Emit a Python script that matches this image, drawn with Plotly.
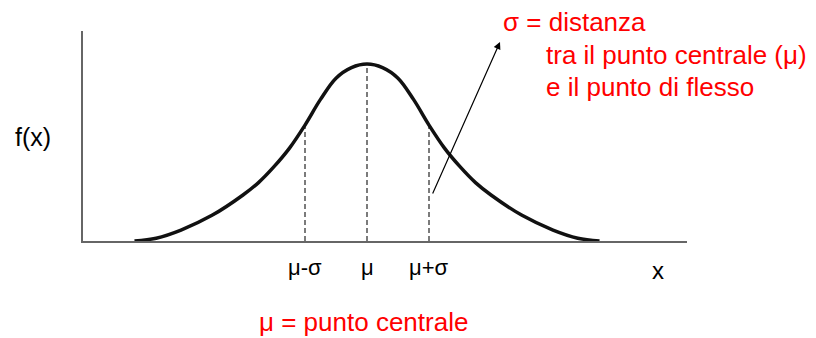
import plotly.graph_objects as go

# Curve (x in sigma units, mu = 0; f scaled so peak = 1)
curve_x = [-3.75, -3.4, -3.0, -2.5, -2.0, -1.75, -1.5, -1.25, -1.0, -0.75, -0.5, -0.25, 0.0,
           0.25, 0.5, 0.75, 1.0, 1.25, 1.5, 1.75, 2.0, 2.5, 3.0, 3.4, 3.75]
curve_y = [0.0, 0.016, 0.062, 0.145, 0.26, 0.33, 0.42, 0.525, 0.655, 0.80, 0.92, 0.98, 1.0,
           0.98, 0.92, 0.80, 0.655, 0.525, 0.42, 0.33, 0.26, 0.145, 0.062, 0.016, 0.0]

# Reference verticals (mu - sigma, mu, mu + sigma)
ref_x = [-1.0, 0.0, 1.0]
ref_y = [0.655, 1.0, 0.655]
tick_labels = ["μ-σ", "μ", "μ+σ"]

W, H = 816, 338
L, R, T, B = 83, 687, 31, 241
XR = [(L - 367) / 62, (R - 367) / 62]
YR = [0, (B - T) / 177]

def px(xp):
    return (xp - L) / (R - L)

def py(yp):
    return (B - yp) / (B - T)

FONT = "Liberation Sans, Arial, sans-serif"
RED = "#ff0000"

fig = go.Figure()
for xv, yv in zip(ref_x, ref_y):
    fig.add_trace(go.Scatter(x=[xv, xv], y=[0, yv], mode="lines",
                             line=dict(color="#444444", width=1.4, dash="5px,3px"),
                             hoverinfo="skip", showlegend=False))
fig.add_trace(go.Scatter(x=curve_x, y=curve_y, mode="lines",
                         line=dict(color="#111111", width=3.5, shape="spline", smoothing=1.0),
                         showlegend=False))

annotations = [
    dict(x=px(33), y=py(137), xref="paper", yref="paper", text="f(x)", showarrow=False,
         font=dict(family=FONT, size=25, color="black"), xanchor="center", yanchor="middle"),
    dict(x=px(658), y=py(270), xref="paper", yref="paper", text="x", showarrow=False,
         font=dict(family=FONT, size=24, color="black"), xanchor="center", yanchor="middle"),
    dict(x=px(501), y=py(22), xref="paper", yref="paper", text="σ = distanza", showarrow=False,
         font=dict(family=FONT, size=26, color=RED), xanchor="left", yanchor="middle"),
    dict(x=px(544), y=py(55), xref="paper", yref="paper", text="tra il punto centrale (μ)",
         showarrow=False, font=dict(family=FONT, size=26, color=RED), xanchor="left", yanchor="middle"),
    dict(x=px(544), y=py(87), xref="paper", yref="paper", text="e il punto di flesso",
         showarrow=False, font=dict(family=FONT, size=26, color=RED), xanchor="left", yanchor="middle"),
    dict(x=px(257), y=py(322), xref="paper", yref="paper", text="μ = punto centrale",
         showarrow=False, font=dict(family=FONT, size=26, color=RED), xanchor="left", yanchor="middle"),
    dict(x=(500 - 367) / 62, y=(B - 42) / 177, xref="x", yref="y",
         ax=(432 - 367) / 62, ay=(B - 195) / 177, axref="x", ayref="y",
         text="", showarrow=True, arrowhead=2, arrowsize=1.2, arrowwidth=1.2, arrowcolor="black"),
]
for xv, lab in zip(ref_x, tick_labels):
    annotations.append(dict(x=xv, y=py(267), xref="x", yref="paper", text=lab, showarrow=False,
                            font=dict(family=FONT, size=22, color="black"),
                            xanchor="center", yanchor="middle"))

fig.update_layout(
    width=W, height=H,
    margin=dict(l=L, r=W - R, t=T, b=H - B, pad=0),
    paper_bgcolor="white", plot_bgcolor="white",
    xaxis=dict(range=XR, showline=True, linecolor="#666666", linewidth=2, showgrid=False,
               zeroline=False, showticklabels=False, ticks="", fixedrange=True),
    yaxis=dict(range=YR, showline=True, linecolor="#666666", linewidth=2, showgrid=False,
               zeroline=False, showticklabels=False, ticks="", fixedrange=True),
    annotations=annotations,
    showlegend=False,
)
fig.write_html("out.html", config={"displayModeBar": False},
               post_script="document.body.style.margin='0';document.body.style.overflow='hidden';")
